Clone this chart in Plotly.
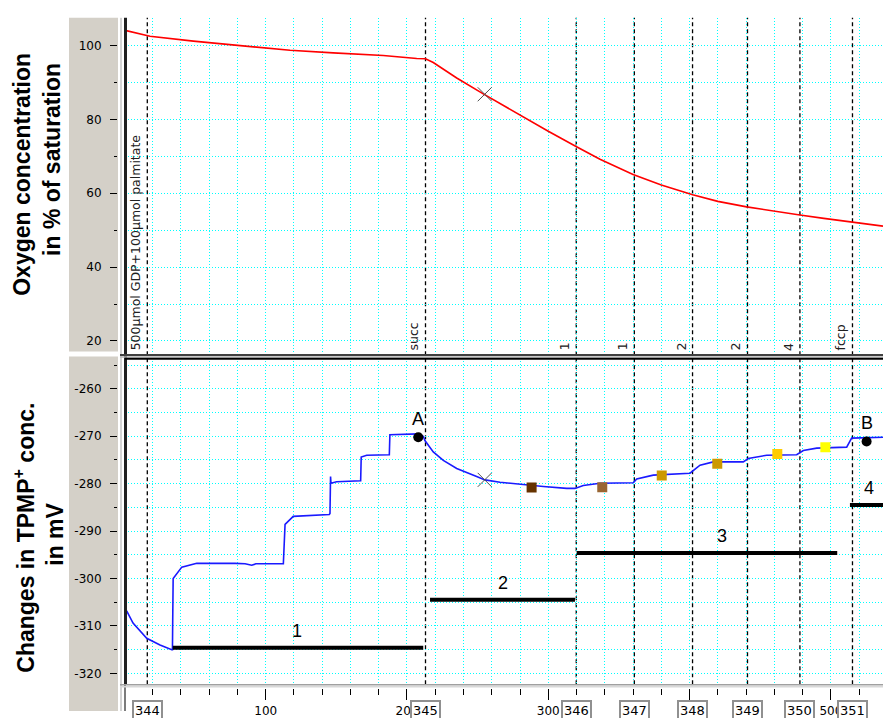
import plotly.graph_objects as go

# ---------------- data ----------------
# oxygen trace (time in s, % of saturation)
o2_time = [0.5, 8.7, 18.1, 48.8, 77.1, 117.2, 147.8, 183.2, 206.9, 213.1, 218.6, 235.2,
           254.0, 282.3, 300.0, 320.0, 336.6, 360.0, 380.0, 402.2, 420.0, 440.4, 460.0,
           478.1, 495.0, 514.9, 536.9]
o2_sat = [104.1, 103.4, 102.5, 101.2, 100.1, 98.7, 98.0, 97.3, 96.5, 96.4, 95.4, 91.2,
          86.9, 80.6, 76.8, 72.6, 69.2, 65.1, 62.2, 59.6, 57.8, 56.3, 55.1,
          54.1, 53.2, 52.2, 51.1]

# TPMP+ electrode trace (time in s, mV)
tpmp_time = [1.6, 6.1, 15.8, 25.2, 33.5, 34.0, 34.2, 34.5, 40.6, 51.2, 78.3, 85.4, 90.1,
             93.1, 112.5, 113.0, 113.7, 119.5, 145.0, 145.5, 145.9, 146.2, 150.2, 167.2,
             167.6, 171.5, 187.5, 187.9, 208.0, 211.5, 212.7, 218.6, 225.7, 235.2, 249.3,
             255.2, 265.8, 284.7, 296.5, 313.0, 318.9, 324.8, 336.6, 360.2, 362.6, 374.3,
             400.3, 407.4, 416.8, 438.0, 441.5, 454.6, 475.8, 480.5, 490.0, 511.2, 514.7,
             536.9]
tpmp_mv = [-306.8, -309.4, -312.6, -314.0, -315.0, -315.0, -308.5, -300.0, -297.6, -296.8,
           -296.8, -296.9, -297.2, -296.9, -296.9, -293.0, -288.6, -286.9, -286.5, -286.3,
           -278.5, -279.9, -279.6, -279.4, -274.4, -274.0, -273.9, -269.7, -269.5, -270.0,
           -270.9, -273.3, -275.1, -276.8, -278.5, -279.2, -279.7, -280.3, -280.6, -281.0,
           -281.0, -280.4, -279.9, -279.8, -279.0, -278.2, -277.8, -276.1, -275.4, -275.4,
           -274.7, -274.0, -273.9, -273.0, -272.5, -272.3, -270.4, -270.2]

# additions (event marks)
event_x = [16.2, 213.1, 319.8, 360.9, 402.1, 441.0, 478.1, 515.3]
event_no = ["344", "345", "346", "347", "348", "349", "350", "351"]
event_label = ["500µmol GDP+100µmol palmitate", "succ", "1", "1", "2", "2", "4", "fccp"]

# steady-state periods
bar_start = [34.2, 216.3, 320.1, 513.5]
bar_end = [211.5, 318.9, 504.5, 545.0]
bar_level = [-314.6, -304.5, -294.6, -284.5]
bar_label_x = [122.0, 268.0, 423.0, 527.0]
bar_label = ["1", "2", "3", "4"]

# reference points A and B
point_x = [208.0, 525.3]
point_mv = [-270.2, -271.1]
point_label = ["A", "B"]

# titration points
sq_x = [288.2, 338.2, 380.3, 419.6, 462.1, 496.1]
sq_mv = [-280.8, -280.75, -278.3, -275.8, -273.75, -272.3]
sq_color = ["#663300", "#996633", "#CC9900", "#CC9900", "#FFCC00", "#FFFF00"]

# cursor position
cross_x = 255.0
cross_o2 = 86.8
cross_mv = -279.2

x_ticks = [100, 200, 300, 400, 500]
o2_ticks = [20, 40, 60, 80, 100]
mv_ticks = [-320, -310, -300, -290, -280, -270, -260]

# ---------------- layout helpers ----------------
W, H = 883, 718


def px(xp):
    return xp / W


def py(yp):
    return 1 - yp / H


X_RANGE = [0.42, 536.9]
GRID = "#00FFFF"
GRID_DASH = "1px,2px"
TICKFONT = dict(family="DejaVu Sans", size=12, color="#000000")

fig = go.Figure()

fig.add_trace(go.Scatter(x=o2_time, y=o2_sat, mode="lines", xaxis="x2", yaxis="y2",
                         line=dict(color="#FF0000", width=1.6), hoverinfo="skip"))
fig.add_trace(go.Scatter(x=[cross_x], y=[cross_o2], mode="markers", xaxis="x2", yaxis="y2",
                         marker=dict(symbol="x-thin", size=14, line=dict(color="#505050", width=1)),
                         hoverinfo="skip"))

fig.add_trace(go.Scatter(x=tpmp_time, y=tpmp_mv, mode="lines", xaxis="x", yaxis="y",
                         line=dict(color="#1a1aff", width=1.6), hoverinfo="skip"))
for s, e, lv in zip(bar_start, bar_end, bar_level):
    fig.add_trace(go.Scatter(x=[s, e], y=[lv, lv], mode="lines", xaxis="x", yaxis="y",
                             line=dict(color="#000000", width=4), hoverinfo="skip"))
fig.add_trace(go.Scatter(x=[cross_x], y=[cross_mv], mode="markers", xaxis="x", yaxis="y",
                         marker=dict(symbol="x-thin", size=14, line=dict(color="#505050", width=1)),
                         hoverinfo="skip"))
fig.add_trace(go.Scatter(x=sq_x, y=sq_mv, mode="markers", xaxis="x", yaxis="y",
                         marker=dict(symbol="square", size=10, color=sq_color, line=dict(width=0)),
                         hoverinfo="skip"))
fig.add_trace(go.Scatter(x=point_x, y=point_mv, mode="markers", xaxis="x", yaxis="y",
                         marker=dict(symbol="circle", size=10, color="#000000"),
                         hoverinfo="skip"))

grid_style = dict(showgrid=True, gridcolor=GRID, griddash=GRID_DASH, gridwidth=1)
axis_common = dict(range=X_RANGE, domain=[px(125), 1], showline=False, zeroline=False, **grid_style)


def y_axis(domain, rng, ticks, minor_step):
    return dict(domain=domain, range=rng, anchor="free", position=px(117), side="left",
                showline=False, zeroline=False,
                tickmode="array", tickvals=ticks, ticktext=[str(t) for t in ticks],
                ticks="outside", ticklen=7, tickcolor="#000000", tickfont=TICKFONT,
                ticklabelstandoff=6, **grid_style,
                minor=dict(dtick=minor_step, tick0=0, ticks="outside", ticklen=3.5,
                           tickcolor="#000000", **grid_style))


fig.update_layout(
    width=W, height=H, autosize=False,
    margin=dict(l=0, r=0, t=0, b=0),
    paper_bgcolor="white", plot_bgcolor="white",
    showlegend=False,
    xaxis=dict(**axis_common, anchor="free", position=py(695),
               tickmode="array", tickvals=x_ticks, ticks="outside", ticklen=11,
               tickcolor="#000000", tickwidth=1, tickfont=TICKFONT, ticklabelstandoff=0,
               minor=dict(dtick=20, tick0=0, ticks="outside", ticklen=6, tickcolor="#000000",
                          **grid_style)),
    xaxis2=dict(**axis_common, anchor="y2", showticklabels=False, ticks="",
                dtick=20, tick0=0),
    yaxis=y_axis([py(691), py(362)], [-322.3, -253.6], mv_ticks, 5),
    yaxis2=y_axis([py(357), py(18)], [16.6, 107.5], o2_ticks, 10),
)

shapes = []
# grey axis panel on the left
shapes.append(dict(type="rect", xref="paper", yref="paper", x0=px(69), x1=px(118),
                   y0=py(355), y1=py(18), fillcolor="#D4D0C8", line=dict(width=0), layer="below"))
shapes.append(dict(type="rect", xref="paper", yref="paper", x0=px(69), x1=px(118),
                   y0=0, y1=py(360), fillcolor="#D4D0C8", line=dict(width=0), layer="below"))
# event markers
for ex in event_x:
    shapes.append(dict(type="line", xref="x", yref="paper", x0=ex, x1=ex, y0=py(691), y1=py(18),
                       line=dict(color="#000000", width=1.3, dash="4px,3px"), layer="below"))
# frame lines
shapes.append(dict(type="line", xref="paper", yref="paper", x0=px(121), x1=px(121), y0=0, y1=py(18),
                   line=dict(color="#A8A8A8", width=1), layer="above"))
shapes.append(dict(type="line", xref="paper", yref="paper", x0=px(125.5), x1=px(125.5),
                   y0=py(691), y1=py(18), line=dict(color="#202020", width=3), layer="above"))
shapes.append(dict(type="line", xref="paper", yref="paper", x0=px(125), x1=px(125),
                   y0=0, y1=py(691), line=dict(color="#505050", width=1.5), layer="above"))
shapes.append(dict(type="line", xref="paper", yref="paper", x0=px(120), x1=1, y0=py(358.5), y1=py(358.5),
                   line=dict(color="#404040", width=2), layer="above"))
shapes.append(dict(type="line", xref="paper", yref="paper", x0=px(120), x1=1, y0=py(360.5), y1=py(360.5),
                   line=dict(color="#B8B8B8", width=1.5), layer="above"))
shapes.append(dict(type="line", xref="paper", yref="paper", x0=px(125), x1=1, y0=py(362.3), y1=py(362.3),
                   line=dict(color="#000000", width=2), layer="above"))
shapes.append(dict(type="line", xref="paper", yref="paper", x0=px(120), x1=1, y0=py(691.5), y1=py(691.5),
                   line=dict(color="#A0A0A0", width=1.5), layer="above"))
shapes.append(dict(type="line", xref="paper", yref="paper", x0=px(120), x1=1, y0=py(693.5), y1=py(693.5),
                   line=dict(color="#D8D8D8", width=1.5), layer="above"))
fig.update_layout(shapes=shapes)

ann = []
LABELFONT = dict(family="Liberation Sans, Arial", size=18, color="#000000")
TITLEFONT = dict(family="Liberation Sans, Arial", size=23, color="#000000")

# axis titles
ann.append(dict(text="<b>Oxygen concentration</b>", xref="paper", yref="paper", x=px(22.5), y=py(176),
                textangle=-90, showarrow=False, font=TITLEFONT, xanchor="center", yanchor="middle"))
ann.append(dict(text="<b>in % of saturation</b>", xref="paper", yref="paper", x=px(52.5), y=py(161),
                textangle=-90, showarrow=False, font=TITLEFONT, xanchor="center", yanchor="middle"))
ann.append(dict(text="<b>Changes in TPMP<sup>+</sup> conc.</b>", xref="paper", yref="paper",
                x=px(24), y=py(543), textangle=-90, showarrow=False, font=TITLEFONT,
                xanchor="center", yanchor="middle"))
ann.append(dict(text="<b>in mV</b>", xref="paper", yref="paper", x=px(55), y=py(540),
                textangle=-90, showarrow=False, font=TITLEFONT, xanchor="center", yanchor="middle"))

# event annotations in the oxygen panel and numbered boxes on the time axis
for ex, lab, no in zip(event_x, event_label, event_no):
    ann.append(dict(text=lab, xref="x2", yref="paper", x=ex, y=py(356), textangle=-90,
                    showarrow=False, xanchor="right", yanchor="bottom", xshift=-2,
                    font=dict(family="DejaVu Sans", size=12.5, color="#202020")))
    ann.append(dict(text=no, xref="x", yref="paper", x=ex, y=py(707), showarrow=False,
                    xanchor="center", yanchor="top", bgcolor="#FFFFFF", bordercolor="#909090",
                    borderwidth=2, borderpad=1,
                    font=dict(family="DejaVu Sans", size=13, color="#000000")))

# period labels
for bx, lv, lab in zip(bar_label_x, bar_level, bar_label):
    ann.append(dict(text=lab, xref="x", yref="y", x=bx, y=lv, yshift=17, showarrow=False,
                    xanchor="center", yanchor="middle", font=LABELFONT))
for qx, qv, lab in zip(point_x, point_mv, point_label):
    ann.append(dict(text=lab, xref="x", yref="y", x=qx, y=qv, yshift=18, showarrow=False,
                    xanchor="center", yanchor="middle", font=LABELFONT))

fig.update_layout(annotations=ann)

fig.write_html("out.html", config=dict(displayModeBar=False))
